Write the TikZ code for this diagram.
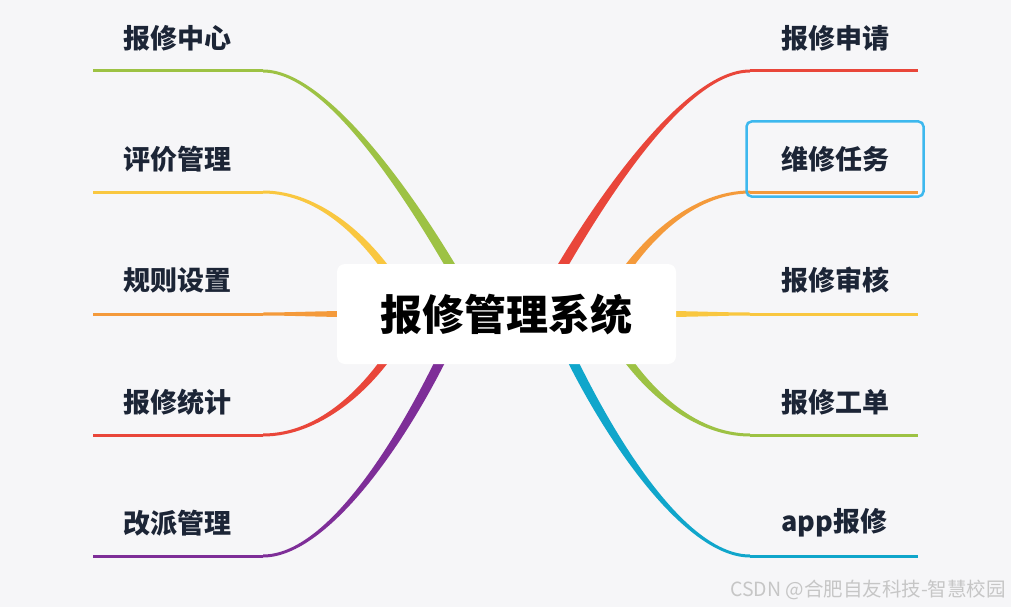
\documentclass[tikz,border=0pt]{standalone}
\usepackage{fontspec}
\setmainfont{Noto Sans CJK SC}
\usetikzlibrary{calc}
\definecolor{bgc}{HTML}{F6F6F8}
\definecolor{txtc}{HTML}{1C2536}
\definecolor{cgreen}{HTML}{9DC244}
\definecolor{cyellow}{HTML}{F9C740}
\definecolor{corange}{HTML}{F49A3B}
\definecolor{cred}{HTML}{E9463A}
\definecolor{cpurple}{HTML}{7E2E98}
\definecolor{ccyan}{HTML}{10A6CB}
\definecolor{hlblue}{HTML}{3DB8EE}
\definecolor{wmark}{HTML}{C6C6C6}
% tapered branch: #1 colour, #2..#5 bezier points, #6 half width at start, #7 half width at end
\newcommand\taperbranch[7]{%
  \fill[#1] ($(#2)!#6!90:(#3)$) .. controls ($(#3)!#6!-90:(#2)$) and ($(#4)!#7!90:(#5)$) .. ($(#5)!#7!-90:(#4)$)
    -- ($(#5)!#7!90:(#4)$) .. controls ($(#4)!#7!-90:(#5)$) and ($(#3)!#6!90:(#2)$) .. ($(#2)!#6!-90:(#3)$) -- cycle;}
\begin{document}
\begin{tikzpicture}[x=1pt,y=-1pt,
  lbl/.style={anchor=west,inner sep=0pt,text=txtc,font=\fontsize{27}{31}\selectfont\bfseries},
  hline/.style={line width=3pt}]
\useasboundingbox (0,0) rectangle (1011,607);
\fill[bgc] (0,0) rectangle (1011,607);

% ---------- left side coordinates
\coordinate (L1) at (93,71);  \coordinate (A1) at (263,71);  \coordinate (B1) at (330,71);  \coordinate (C1) at (420,210); \coordinate (D1) at (470,300);
\coordinate (L2) at (93,192); \coordinate (A2) at (263,192); \coordinate (B2) at (320,192); \coordinate (C2) at (370,240); \coordinate (D2) at (400,290);
\coordinate (L3) at (93,314); \coordinate (A3) at (263,314); \coordinate (B3) at (290,314); \coordinate (C3) at (320,314); \coordinate (D3) at (350,314);
\coordinate (L4) at (93,435); \coordinate (A4) at (263,435); \coordinate (B4) at (320,435); \coordinate (C4) at (370,388); \coordinate (D4) at (400,338);
\coordinate (L5) at (93,556); \coordinate (A5) at (263,556); \coordinate (B5) at (330,556); \coordinate (C5) at (410,430); \coordinate (D5) at (455,330);
% ---------- right side coordinates
\coordinate (R1) at (918,71);  \coordinate (E1) at (750,71);  \coordinate (F1) at (683,71);  \coordinate (G1) at (593,210); \coordinate (H1) at (543,300);
\coordinate (R2) at (918,192); \coordinate (E2) at (750,192); \coordinate (F2) at (693,192); \coordinate (G2) at (643,240); \coordinate (H2) at (613,290);
\coordinate (R3) at (918,314); \coordinate (E3) at (750,314); \coordinate (F3) at (723,314); \coordinate (G3) at (693,314); \coordinate (H3) at (663,314);
\coordinate (R4) at (918,435); \coordinate (E4) at (750,435); \coordinate (F4) at (693,435); \coordinate (G4) at (643,388); \coordinate (H4) at (613,338);
\coordinate (R5) at (918,556); \coordinate (E5) at (750,556); \coordinate (F5) at (683,556); \coordinate (G5) at (603,430); \coordinate (H5) at (558,330);

% ---------- left branches
\draw[hline,cgreen] (L1) -- (A1);  \taperbranch{cgreen}{A1}{B1}{C1}{D1}{1.5pt}{5pt}
\draw[hline,cyellow] (L2) -- (A2); \taperbranch{cyellow}{A2}{B2}{C2}{D2}{1.5pt}{4pt}
\draw[hline,corange] (L3) -- (A3); \taperbranch{corange}{A3}{B3}{C3}{D3}{1.5pt}{3pt}
\draw[hline,cred] (L4) -- (A4);    \taperbranch{cred}{A4}{B4}{C4}{D4}{1.5pt}{4pt}
\draw[hline,cpurple] (L5) -- (A5); \taperbranch{cpurple}{A5}{B5}{C5}{D5}{1.5pt}{5pt}
% ---------- right branches
\draw[hline,cred] (E1) -- (R1);    \taperbranch{cred}{E1}{F1}{G1}{H1}{1.5pt}{5pt}
\draw[hline,corange] (E2) -- (R2); \taperbranch{corange}{E2}{F2}{G2}{H2}{1.5pt}{4pt}
\draw[hline,cyellow] (E3) -- (R3); \taperbranch{cyellow}{E3}{F3}{G3}{H3}{1.5pt}{3pt}
\draw[hline,cgreen] (E4) -- (R4);  \taperbranch{cgreen}{E4}{F4}{G4}{H4}{1.5pt}{4pt}
\draw[hline,ccyan] (E5) -- (R5);   \taperbranch{ccyan}{E5}{F5}{G5}{H5}{1.5pt}{5pt}

% ---------- centre
\node[fill=white,rounded corners=8pt,minimum width=339pt,minimum height=100pt,inner sep=0pt,
      font=\fontsize{42}{50}\selectfont\bfseries,text=black] (c) at (506.5,314) {报修管理系统};

% ---------- labels
\node[lbl] (t1) at (123,38)  {报修中心};
\node[lbl] (t2) at (123,159) {评价管理};
\node[lbl] (t3) at (123,280) {规则设置};
\node[lbl] (t4) at (123,402) {报修统计};
\node[lbl] (t5) at (123,523) {改派管理};
\node[lbl] (t6) at (781,38)  {报修申请};
\node[lbl] (t7) at (781,159) {维修任务};
\node[lbl] (t8) at (781,280) {报修审核};
\node[lbl] (t9) at (781,402) {报修工单};
\node[lbl] (t10) at (781,523) {app报修};

% ---------- highlight frame
\node[draw=hlblue,line width=2.5pt,rounded corners=5pt,minimum width=177pt,minimum height=75pt,inner sep=0pt] (hl) at (835,159) {};

% ---------- watermark
\node[anchor=east,inner sep=0pt,text=wmark,font=\fontsize{19.5}{23}\selectfont] (wm) at (1006,590) {CSDN @合肥自友科技-智慧校园};
\end{tikzpicture}
\end{document}
